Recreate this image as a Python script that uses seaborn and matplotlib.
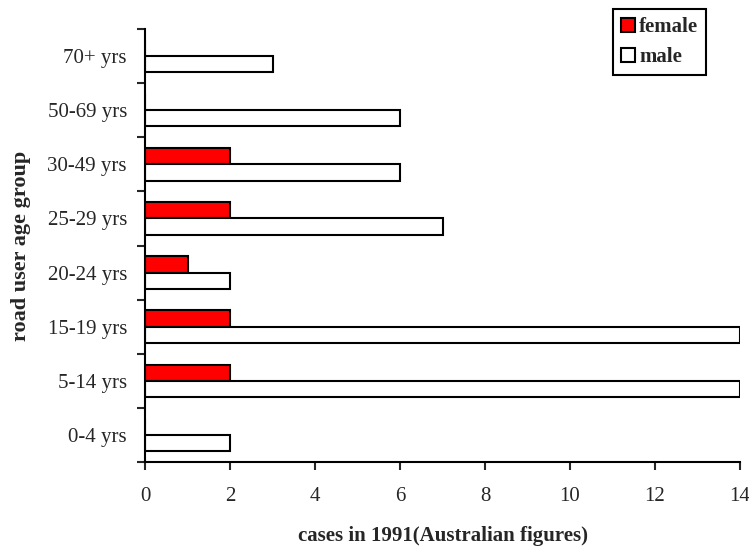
#!/usr/bin/env python3
"""
Horizontal bar chart: road user cases by age group and sex (1991, Australian figures).
"""

import pandas as pd
import numpy as np
import matplotlib
matplotlib.use("Agg")
import matplotlib.pyplot as plt
from matplotlib.patches import Patch
import seaborn as sns

# Data (top to bottom as drawn)
age_groups = ['70+ yrs', '50-69 yrs', '30-49 yrs', '25-29 yrs',
              '20-24 yrs', '15-19 yrs', '5-14 yrs', '0-4 yrs']
female_cases = [0, 0, 2, 2, 1, 2, 2, 0]
male_cases = [3, 6, 6, 7, 2, 14, 14, 2]
sexes = ['female', 'male']
x_ticks = [0, 2, 4, 6, 8, 10, 12, 14]


def build_frame():
    """Long-format table for seaborn."""
    rows = []
    for g, f, m in zip(age_groups, female_cases, male_cases):
        rows.append({'age': g, 'sex': 'female', 'cases': f})
        rows.append({'age': g, 'sex': 'male', 'cases': m})
    return pd.DataFrame(rows)


def main():
    sns.set_style('white')
    plt.rcParams['font.family'] = ['Liberation Serif', 'DejaVu Serif']

    df = build_frame()

    fig = plt.figure(figsize=(7.49, 5.47), dpi=100)
    ax = fig.add_axes([145 / 749, 1 - 462 / 547, 595 / 749, 433 / 547])

    sns.barplot(data=df, x='cases', y='age', hue='sex',
                order=age_groups, hue_order=sexes,
                palette={'female': '#ff0000', 'male': '#ffffff'},
                orient='h', width=0.6, gap=0, dodge=True,
                edgecolor='black', linewidth=1.5, saturation=1,
                legend=False, ax=ax)

    ax.set_xlim(0, 14)
    ax.set_ylim(len(age_groups) - 0.5, -0.5)
    ax.set_xticks(x_ticks)
    ax.set_xticklabels([str(t) for t in x_ticks])

    # category labels at centres, tick marks at boundaries
    ax.set_yticks(np.arange(-0.5, len(age_groups), 1.0))
    ax.set_yticklabels([])
    ax.set_yticks(np.arange(len(age_groups)), minor=True)
    ax.set_yticklabels(age_groups, minor=True)
    ax.tick_params(axis='y', which='minor', length=0, pad=13, labelsize=15)
    ax.tick_params(axis='y', which='major', length=6, width=1.5, direction='out', left=True)
    ax.tick_params(axis='x', length=6, width=1.5, direction='out', bottom=True,
                   pad=12, labelsize=15)

    for side in ['top', 'right']:
        ax.spines[side].set_visible(False)
    for side in ['left', 'bottom']:
        ax.spines[side].set_color('black')
        ax.spines[side].set_linewidth(1.5)

    ax.set_xlabel('cases in 1991(Australian figures)', fontsize=15,
                  fontweight='bold', labelpad=14.5)
    ax.set_ylabel('road user age group', fontsize=16, fontweight='bold', labelpad=12)

    handles = [Patch(facecolor='#ff0000', edgecolor='black', linewidth=1.5),
               Patch(facecolor='#ffffff', edgecolor='black', linewidth=1.5)]
    leg = fig.legend(handles, sexes, loc='upper left',
                     bbox_to_anchor=(613 / 749, 1 - 9 / 547),
                     prop={'weight': 'bold', 'size': 15},
                     frameon=True, fancybox=False, framealpha=1,
                     handlelength=0.67, handleheight=0.67, handletextpad=0.2,
                     borderpad=0.38, labelspacing=0.5, borderaxespad=0)
    leg.get_frame().set_edgecolor('black')
    leg.get_frame().set_linewidth(1.5)

    fig.savefig('out.png', dpi=100)
    plt.close(fig)


if __name__ == "__main__":
    main()
